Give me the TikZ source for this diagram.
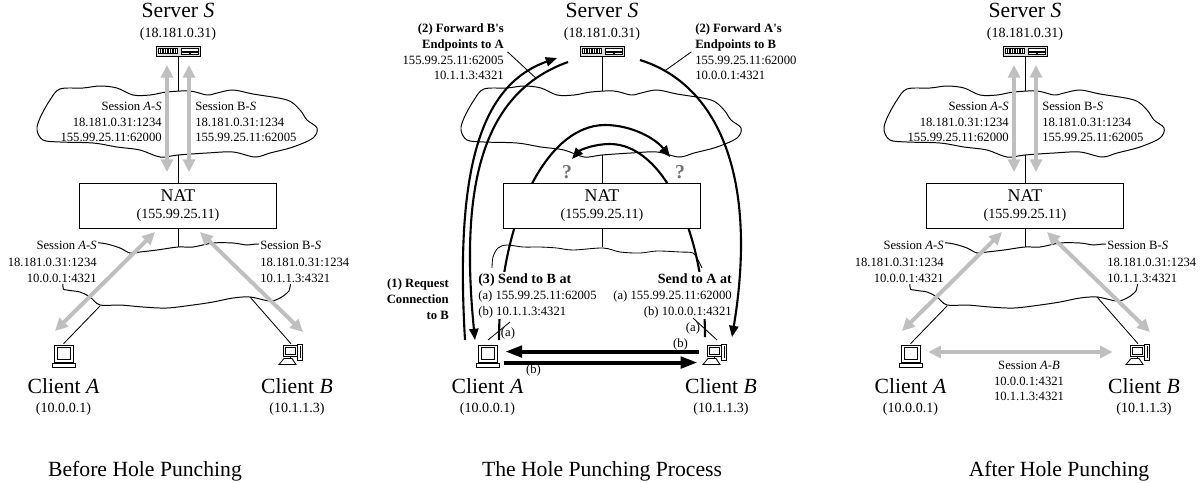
\documentclass[tikz,border=0pt]{standalone}
\usepackage{fontspec}
\setmainfont{Liberation Serif}
\usetikzlibrary{arrows.meta,positioning}
\pgfdeclarelayer{front}
\pgfsetlayers{main,front}

\begin{document}
\begin{tikzpicture}[x=0.025cm,y=-0.025cm]
	\tikzstyle{wire} = [draw=black, line width=0.6pt]
	\tikzstyle{cloudy} = [draw=black, line width=0.7pt, fill=white]
	\tikzstyle{session} = [draw=gray!50, line width=2.8pt, arrows={Triangle[length=9pt,width=8.5pt]-Triangle[length=9pt,width=8.5pt]}]
	\tikzstyle{hole} = [draw=black, line width=1.5pt, arrows={-Triangle[length=8pt,width=6.5pt]}]
	\tikzstyle{push} = [draw=black, line width=2.8pt, arrows={-Triangle[length=12pt,width=8pt]}]
	\tikzstyle{bigname} = [font=\fontsize{15.4}{18}\selectfont, inner sep=0pt, anchor=base]
	\tikzstyle{captxt} = [font=\fontsize{15.4}{18}\selectfont, inner sep=0pt, anchor=base]
	\tikzstyle{ipaddr} = [font=\fontsize{10}{12}\selectfont, inner sep=0pt, anchor=base]
	\tikzstyle{sess} = [font=\fontsize{9}{11}\selectfont, inner sep=0pt]
	\tikzstyle{fwd} = [font=\fontsize{9}{11.3}\selectfont, inner sep=0pt]
	\tikzstyle{pathtag} = [font=\fontsize{9}{11}\selectfont, inner sep=0pt]
	\tikzstyle{qmark} = [font=\fontsize{14}{14}\selectfont\bfseries, text=black!55, inner sep=0pt]
	\tikzstyle{natbox} = [draw=black, line width=0.7pt, fill=white, minimum width=4.9cm, minimum height=1.125cm, align=center, font=\fontsize{10}{12}\selectfont]
	\tikzstyle{srvbox} = [draw=black, line width=0.6pt, fill=gray!25, minimum width=1.1cm, minimum height=0.25cm, inner sep=0pt]
	\tikzstyle{pcbox} = [inner sep=0pt, minimum width=0.575cm, minimum height=0.575cm]

	\path[fill=white] (0,0) rectangle (1200,482);

	% the parts that all three pictures share
	\foreach \dx/\p in {0/l,424/m,847/r} {
	\begin{scope}[shift={(\dx,0)}]
		\node[bigname] (srvname\p) at (178,17.3) {Server \textit{S}};
		\node[ipaddr] (srvip\p) at (178,37.5) {(18.181.0.31)};
		\node[srvbox] (srv\p) at (178,51) {};
		\draw[line width=0.4pt, fill=white] (158.5,48.5) rectangle (177,53.5);
		\foreach \k in {160.5,163,...,175.5}
			\draw[line width=0.8pt] (\k,48.5) -- (\k,53.5);
		\draw[line width=0.4pt, fill=white] (181,48.5) rectangle (198,50.8);
		\draw[line width=0.4pt, fill=white] (181,51.8) rectangle (189,53.8);
		\draw[line width=0.4pt, fill=white] (190,51.8) rectangle (198,53.8);
		\begin{pgfonlayer}{front}
			\node[natbox] (nat\p) at (178,205.5) {{\fontsize{12.7}{14}\selectfont NAT}\\(155.99.25.11)};
		\end{pgfonlayer}
		\draw[wire] (srv\p) -- (nat\p);
		\draw[cloudy] plot[smooth cycle, tension=0.55] coordinates {
			(50,100) (60,89) (83,88) (100,86) (117,88) (133,95) (150,95) (167,92)
			(190,91) (207,95) (217,93) (233,90) (253,94) (287,100) (300,110) (307,120)
			(317,128) (313,138) (293,147) (270,153) (255,157) (233,152) (207,153) (178,155)
			(160,157) (140,150) (117,147) (93,143) (60,142) (43,140) (37,130) (40,118)};
		\coordinate (lan\p) at (178,247);
		\draw[wire] (nat\p) -- (lan\p);
		% clients
		\node[pcbox] (pcA\p) at (63.5,355.5) {};
		\draw[line width=0.6pt, fill=white] (54,345) rectangle (73,362);
		\draw[line width=0.6pt] (57,347.5) rectangle (70.5,359.5);
		\draw[line width=0.6pt, fill=white] (52.5,363.5) rectangle (75,367);
		\node[pcbox] (pcB\p) at (291,355.5) {};
		\draw[line width=0.6pt, fill=white] (283,345) rectangle (297,356);
		\draw[line width=0.6pt] (285,347) rectangle (295,354);
		\draw[line width=0.6pt, fill=white] (297.5,344) rectangle (302.5,360);
		\draw[line width=0.6pt] (300,346) -- (300,358);
		\draw[line width=0.6pt] (290,356) -- (290,358.5);
		\draw[line width=0.6pt, fill=white] (284,358.5) -- (292,358.5) -- (296,364.5) -- (279,364.5) -- cycle;
		\node[bigname] (nameA\p) at (63.5,393) {Client \textit{A}};
		\node[ipaddr] (ipA\p) at (63.5,412) {(10.0.0.1)};
		\node[bigname] (nameB\p) at (297,393) {Client \textit{B}};
		\node[ipaddr] (ipB\p) at (297,412) {(10.1.1.3)};
	\end{scope}
	}

	% before and after: sessions kept by the NAT
	\foreach \dx/\p in {0/l,847/r} {
	\begin{scope}[shift={(\dx,0)}]
		\draw[cloudy] plot[smooth cycle, tension=0.55] coordinates {
			(97,243) (107,244) (120,248) (130,253) (140,252) (157,250) (178,247) (193,247)
			(213,243) (233,243) (247,245) (258,244) (275,246) (292,262) (290,287) (287,293)
			(280,298) (270,301) (250,297) (233,298) (213,302) (193,305) (167,308) (143,307)
			(120,305) (100,305) (90,297) (80,292) (67,290) (63,287) (65,265) (80,246)};
		\node[sess, font=\fontsize{9}{11.7}\selectfont, fill=white, inner sep=1pt, anchor=north east, align=right] (lowA\p) at (98.4,239.9)
			{Session \textit{A}-\textit{S}\\18.181.0.31:1234\\10.0.0.1:4321};
		\node[sess, font=\fontsize{9}{11.7}\selectfont, fill=white, inner sep=1pt, anchor=north west, align=left] (lowB\p) at (258.6,239.9)
			{Session B-\textit{S}\\18.181.0.31:1234\\10.1.1.3:4321};
		\node[sess, anchor=north east, align=right] (upA\p) at (162,102.3)
			{Session \textit{A}-\textit{S}\\18.181.0.31:1234\\155.99.25.11:62000};
		\node[sess, anchor=north west, align=left] (upB\p) at (195,102.3)
			{Session B-\textit{S}\\18.181.0.31:1234\\155.99.25.11:62005};
		\coordinate (lanA\p) at (100,306);
		\coordinate (lanB\p) at (250,297);
		\draw[wire] (lanA\p) -- (pcA\p.north);
		\draw[wire] (lanB\p) -- (pcB\p.north);
		\coordinate (upAt\p) at (167,65);
		\coordinate (upAb\p) at (167,172);
		\coordinate (upBt\p) at (189,65);
		\coordinate (upBb\p) at (189,172);
		\coordinate (loAt\p) at (155,232);
		\coordinate (loAb\p) at (55,331);
		\coordinate (loBt\p) at (200,232);
		\coordinate (loBb\p) at (303,332);
		\draw[session] (upAt\p) -- (upAb\p);
		\draw[session] (upBt\p) -- (upBb\p);
		\draw[session] (loAt\p) -- (loAb\p);
		\draw[session] (loBt\p) -- (loBb\p);
	\end{scope}
	}

	% the hole punching process
	\draw[wire] plot[smooth, tension=0.55] coordinates {
		(492,268) (493,257) (498,248) (507,245) (523,247) (540,247) (557,248) (573,250)
		(603,248) (620,252) (640,253) (657,251) (680,252) (693,253) (698,260) (702,268)};
	\coordinate (holeA) at (499,340);
	\coordinate (holeB) at (705,337);
	\coordinate (askB) at (670,157);
	\coordinate (askA) at (572,159);
	\draw[hole] (holeA) .. controls (499,221) and (546,125) .. (605,125) .. controls (631,125) and (655,138) .. (askB);
	\draw[hole] (holeB) .. controls (705,230) and (662,144) .. (610,144) .. controls (594,144) and (580,150) .. (askA);
	\node[qmark] (qA) at (567,172) {?};
	\node[qmark] (qB) at (680,172) {?};

	\node[fwd, fill=white, inner sep=1pt, anchor=north west, align=left] (sendB) at (476.6,271.8)
		{{\fontsize{10}{11.3}\selectfont\bfseries (3) Send to B at}\\(a) 155.99.25.11:62005\\(b) 10.1.1.3:4321};
	\node[fwd, fill=white, inner sep=1pt, anchor=north east, align=right] (sendA) at (733.4,271.8)
		{{\fontsize{10}{11.3}\selectfont\bfseries Send to A at}\\(a) 155.99.25.11:62000\\(b) 10.0.0.1:4321};
	\node[fwd, font=\fontsize{9}{11.3}\selectfont\bfseries, anchor=north east, align=right] (req) at (449,278.2)
		{(1) Request\\Connection\\to B};
	\node[fwd, anchor=north east, align=right] (fwdB) at (504,23.2)
		{\textbf{(2) Forward B\textquotesingle s}\\\textbf{Endpoints to A}\\155.99.25.11:62005\\10.1.1.3:4321};
	\node[fwd, anchor=north west, align=left] (fwdA) at (695,23.2)
		{\textbf{(2) Forward A\textquotesingle s}\\\textbf{Endpoints to B}\\155.99.25.11:62000\\10.0.0.1:4321};

	\coordinate (reqA) at (465,340);
	\coordinate (reqS) at (557,58);
	\coordinate (toA) at (475,340);
	\coordinate (fromSA) at (568,62);
	\coordinate (fromSB) at (640,60);
	\coordinate (toB) at (732,337);
	\draw[hole] (reqA) .. controls (455,170) and (480,85) .. (reqS);
	\draw[hole] (fromSA) .. controls (490,90) and (458,170) .. coordinate[pos=0.15] (ptrA) (toA);
	\draw[hole] (fromSB) .. controls (720,85) and (758,180) .. coordinate[pos=0.11] (ptrB) (toB);
	\draw[wire] ([xshift=2.5pt]fwdB.east) -- (ptrA);
	\draw[wire] ([xshift=-2.5pt]fwdA.west) -- (ptrB);

	% the two tries of each client
	\coordinate (cutA1) at (488,340);
	\coordinate (cutA2) at (510,322);
	\coordinate (cutB1) at (693,318);
	\coordinate (cutB2) at (717,340);
	\draw[wire] (cutA1) -- (cutA2);
	\draw[wire] (cutB1) -- (cutB2);
	\node[pathtag] (aA) at (508,333) {(a)};
	\node[pathtag] (aB) at (693,328) {(a)};
	\node[pathtag] (bB) at (680.5,344) {(b)};
	\node[pathtag] (bA) at (533.5,370.5) {(b)};
	\draw[push, shorten <=3pt, shorten >=4.2pt] ([yshift=2.8pt]pcBm.west) -- ([yshift=2.8pt]pcAm.east);
	\draw[push, shorten <=3.5pt, shorten >=4pt] ([yshift=-5pt]pcAm.east) -- ([yshift=-5pt]pcBm.west);

	% after: the direct session
	\draw[session, shorten <=4.2pt, shorten >=9.6pt] ([yshift=2.5pt]pcAr.east) -- ([yshift=2.5pt]pcBr.west);
	\node[sess, anchor=north, align=center] (sessAB) at (1029,361.3)
		{Session \textit{A}-\textit{B}\\10.0.0.1:4321\\10.1.1.3:4321};

	\node[captxt] (capl) at (145,476) {Before Hole Punching};
	\node[captxt] (capm) at (602,476) {The Hole Punching Process};
	\node[captxt] (capr) at (1059,476) {After Hole Punching};
\end{tikzpicture}
\end{document}
